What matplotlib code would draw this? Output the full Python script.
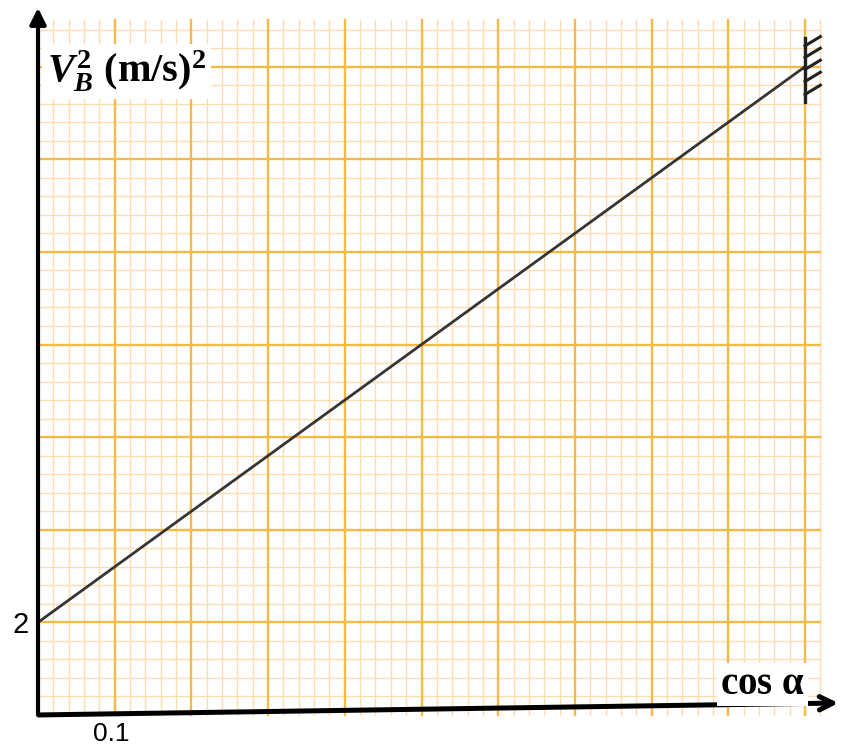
import numpy as np
import matplotlib
matplotlib.use('Agg')
import matplotlib.pyplot as plt

# data
cos_vals = [0.0, 1.0]
vb2_vals = [2.0, 14.0]
x_ticks = [0.1]
x_tick_labels = ['0.1']
y_ticks = [2]
y_tick_labels = ['2']

plt.rcParams['mathtext.fontset'] = 'custom'
plt.rcParams['mathtext.rm'] = 'Liberation Serif:bold'
plt.rcParams['mathtext.it'] = 'Liberation Serif:italic:bold'
plt.rcParams['mathtext.bf'] = 'Liberation Serif:bold'

fig = plt.figure(figsize=(8.52, 7.5), dpi=100)
ax = fig.add_axes([0, 0, 1, 1])
ax.set_xlim(-38 / 767, 814 / 767)
ax.set_ylim(-0.756, 15.44)
ax.axis('off')

# graph paper
gx_max, gy_max = 1.02, 15.0
minor_col, major_col = '#FBDDB2', '#F5B945'
for x in np.arange(0.02, gx_max + 1e-6, 0.02):
    major = abs(x / 0.1 - round(x / 0.1)) < 1e-6
    ax.plot([x, x], [0, gy_max], color=major_col if major else minor_col,
            lw=1.7 if major else 1.0, zorder=2 if major else 1)
for y in np.arange(0.4, gy_max + 1e-6, 0.4):
    major = abs(y / 2 - round(y / 2)) < 1e-6
    ax.plot([0, gx_max], [y, y], color=major_col if major else minor_col,
            lw=1.7 if major else 1.0, zorder=2 if major else 1)

# the line
ax.plot(cos_vals, vb2_vals, color='#353535', lw=2.0, zorder=4)

# hatched support at the end of the line
ax.plot([1.0, 1.0], [13.23, 14.63], color='#222222', lw=2.4, zorder=5)
for yh in [14.55, 14.3, 14.04, 13.78, 13.5]:
    ax.plot([1.0, 1.02], [yh - 0.1, yh + 0.1], color='#222222', lw=2.2, zorder=5)

# axes arrows
ax.annotate('', xy=(0, 15.33), xytext=(0, -0.03),
            arrowprops=dict(arrowstyle='-|>', color='black', lw=3.0, mutation_scale=24),
            zorder=6)
ax.annotate('', xy=(1.047, 0.26), xytext=(-0.003, 0.0),
            arrowprops=dict(arrowstyle='->', color='black', lw=3.6, mutation_scale=24),
            zorder=6)

# labels
for t, lab in zip(y_ticks, y_tick_labels):
    ax.text(-0.023, t - 0.05, lab, ha='center', va='center', fontsize=21,
            family='Liberation Sans', zorder=7)
for t, lab in zip(x_ticks, x_tick_labels):
    ax.text(t - 0.005, -0.4, lab, ha='center', va='center', fontsize=19,
            family='Liberation Sans', zorder=7)

ax.text(0.012, 13.9, r'$V_B^{2}$ (m/s)$^{2}$', ha='left', va='center', fontsize=29,
        family='Liberation Serif', weight='bold', zorder=7,
        bbox=dict(boxstyle='square,pad=0.12', fc='white', ec='none'))
ax.text(0.944, 0.66, r'cos $\mathrm{\alpha}$', ha='center', va='center', fontsize=28,
        family='Liberation Serif', weight='bold', zorder=7,
        bbox=dict(boxstyle='square,pad=0.08', fc='white', ec='none'))

fig.savefig('out.png', dpi=100)
